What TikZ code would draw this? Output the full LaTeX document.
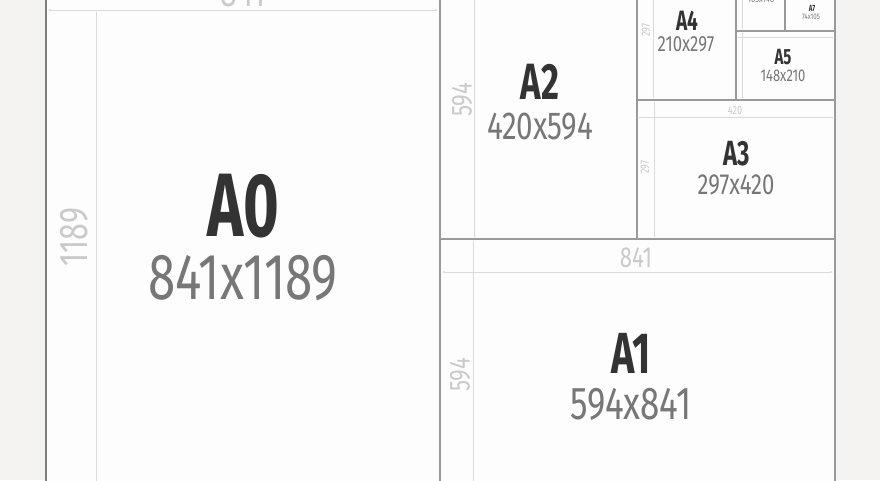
\documentclass[tikz,border=0pt]{standalone}
\usepackage{fontspec}
\usetikzlibrary{arrows.meta}
\newfontfamily\titlefont[FakeStretch=0.68]{Fira Sans Bold}
\newfontfamily\sizefont[FakeStretch=0.76]{Fira Sans}
\definecolor{bgc}{HTML}{F4F3F1}
\definecolor{paper}{HTML}{FDFDFD}
\definecolor{edgec}{HTML}{9A9A9A}
\definecolor{edgedark}{HTML}{7E7E7E}
\definecolor{dimc}{HTML}{DADADA}
\definecolor{dimtext}{HTML}{CACACA}
\definecolor{titlec}{HTML}{333333}
\definecolor{sizec}{HTML}{777777}
\tikzset{
  sheet/.style={fill=paper, draw=edgec, line width=1.1pt},
  dimline/.style={draw=dimc, line width=0.6pt},
  dimarrow/.style={dimline, {Stealth[length=3pt,width=2pt]}-{Stealth[length=3pt,width=2pt]}},
  lbl/.style={inner sep=0pt, outer sep=0pt, anchor=center},
  ttl/.style={lbl, text=titlec, font=\titlefont\fontsize{#1}{#1}\selectfont},
  sz/.style={lbl, text=sizec, font=\sizefont\fontsize{#1}{#1}\selectfont},
  dm/.style={lbl, text=dimtext, font=\sizefont\fontsize{#1}{#1}\selectfont},
}
\begin{document}
\begin{tikzpicture}[x=1pt,y=-1pt]
\useasboundingbox (0,0) rectangle (880,480);
\clip (0,0) rectangle (880,480);
\fill[bgc] (0,0) rectangle (880,480);
% sheets
\draw[sheet] (46,-10) rectangle (440,490);
\draw[sheet] (440,239) rectangle (835,490);
\draw[sheet] (440,-10) rectangle (637,239);
\draw[sheet] (637,100) rectangle (835,239);
\draw[sheet] (637,-10) rectangle (736,100);
\draw[sheet] (736,31) rectangle (835,100);
\draw[sheet] (736,-10) rectangle (785,31);
\draw[sheet] (785,-10) rectangle (835,31);
\draw[draw=edgedark, line width=1.8pt] (46,-10) -- (46,490);
% dimension lines A0
\coordinate (a0h1) at (48,10);
\coordinate (a0h2) at (438,10);
\draw[dimarrow] (a0h1) -- (a0h2);
\coordinate (a0v1) at (96,12);
\coordinate (a0v2) at (96,490);
\draw[dimline] (a0v1) -- (a0v2);
\node[dm=40] (d841a) at (243,-7) {841};
\node[dm=40, rotate=90] (d1189) at (74,237) {1189};
% A1 dims
\coordinate (a1h1) at (442,272);
\coordinate (a1h2) at (833,272);
\draw[dimarrow] (a1h1) -- (a1h2);
\coordinate (a1v1) at (473,241);
\coordinate (a1v2) at (473,490);
\draw[dimline] (a1v1) -- (a1v2);
\node[dm=29] (d841b) at (636,258) {841};
\node[dm=29, rotate=90] (d594a) at (460,375) {594};
% A2 dims
\coordinate (a2v1) at (474,-10);
\coordinate (a2v2) at (474,237);
\draw[dimline] (a2v1) -- (a2v2);
\node[dm=29, rotate=90] (d594b) at (462,100) {594};
% A3 dims
\coordinate (a3h1) at (639,117);
\coordinate (a3h2) at (833,117);
\draw[dimline] (a3h1) -- (a3h2);
\coordinate (a3v1) at (654,102);
\coordinate (a3v2) at (654,237);
\draw[dimline] (a3v1) -- (a3v2);
\node[dm=12] (d420) at (735,110) {420};
\node[dm=12, rotate=90] (d297a) at (645,167) {297};
% A4 dims
\coordinate (a4v1) at (653,-10);
\coordinate (a4v2) at (653,98);
\draw[dimline] (a4v1) -- (a4v2);
\node[dm=12, rotate=90] (d297b) at (646,30) {297};
% A5 dims
\coordinate (a5h1) at (738,37);
\coordinate (a5h2) at (833,37);
\draw[dimline] (a5h1) -- (a5h2);
\coordinate (a5v1) at (742,33);
\coordinate (a5v2) at (742,98);
\draw[dimline] (a5v1) -- (a5v2);
% A6 dims
\coordinate (a6v1) at (742,-10);
\coordinate (a6v2) at (742,29);
\draw[dimline] (a6v1) -- (a6v2);
% titles
\node[ttl=90] (tA0) at (243,206) {A0};
\node[sz=65] (sA0) at (243,278) {841x1189};
\node[ttl=58] (tA1) at (631,353) {A1};
\node[sz=46] (sA1) at (631,404) {594x841};
\node[ttl=51] (tA2) at (540,82) {A2};
\node[sz=39] (sA2) at (540,127) {420x594};
\node[ttl=35] (tA3) at (737,154) {A3};
\node[sz=29] (sA3) at (736,185) {297x420};
\node[ttl=28] (tA4) at (687,21) {A4};
\node[sz=22] (sA4) at (686,44) {210x297};
\node[ttl=22] (tA5) at (783,57) {A5};
\node[sz=17] (sA5) at (783,76) {148x210};
\node[sz=10] (sA6) at (761,-1) {105x148};
\node[ttl=9] (tA7) at (812,8) {A7};
\node[sz=8] (sA7) at (811,17) {74x105};
\end{tikzpicture}
\end{document}
